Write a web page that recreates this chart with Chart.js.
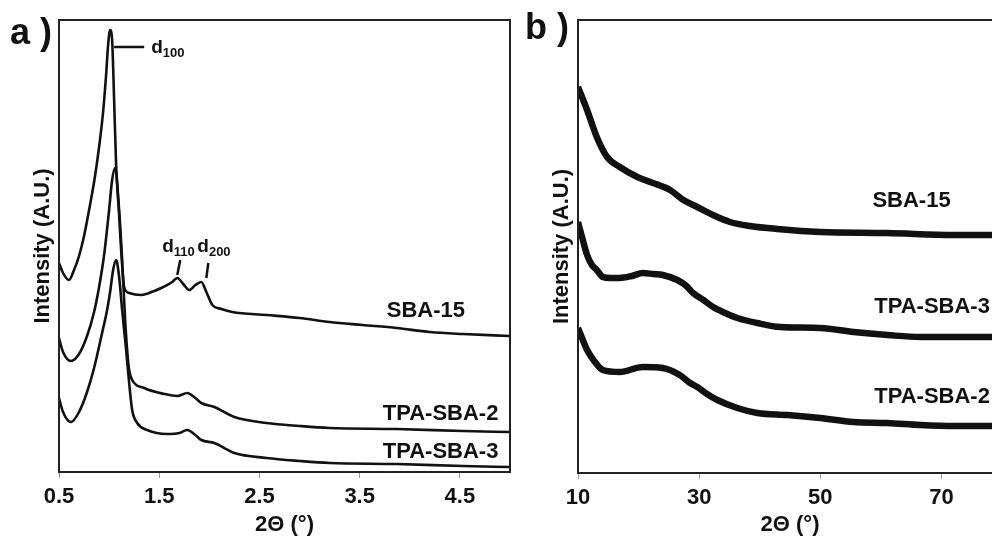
<!DOCTYPE html>
<html>
<head>
<meta charset="utf-8">
<script src="https://cdn.jsdelivr.net/npm/chart.js@4.4.0/dist/chart.umd.min.js"></script>
<style>
  html, body { margin: 0; padding: 0; background: #fff; overflow: hidden; }
  #wrap { position: relative; width: 992px; height: 538px; overflow: hidden; }
  #chartA { position: absolute; left: 0; top: 0; }
  #chartB { position: absolute; left: 520px; top: 0; }
</style>
</head>
<body>
<div id="wrap">
  <canvas id="chartA" width="530" height="538"></canvas>
  <canvas id="chartB" width="500" height="538"></canvas>
</div>
<script>
// ---- panel a: low-angle XRD ----
const seriesA = ["SBA-15", "TPA-SBA-2", "TPA-SBA-3"];
const ticksA = [0.5, 1.5, 2.5, 3.5, 4.5];

const thetaA_sba15 = [0.50, 0.54, 0.60, 0.65, 0.70, 0.75, 0.80, 0.85, 0.88, 0.91, 0.94, 0.97, 0.99, 1.01, 1.03, 1.05, 1.07, 1.10, 1.12, 1.15, 1.20, 1.32, 1.45, 1.52, 1.63, 1.68, 1.74, 1.80, 1.86, 1.92, 1.97, 2.03, 2.12, 2.23, 2.57, 2.90, 3.20, 3.53, 3.87, 4.20, 4.53, 5.00];
const intA_sba15   = [209, 199, 192, 202, 216, 236, 262, 290, 310, 333, 360, 397, 427, 442, 432, 372, 307, 257, 222, 185, 179, 177, 181, 184, 190, 194, 188, 182, 187, 190, 180, 167, 163, 160, 157, 154, 150, 147, 144, 140, 138, 136];

const thetaA_tpa2 = [0.50, 0.54, 0.62, 0.70, 0.78, 0.85, 0.90, 0.95, 1.00, 1.03, 1.06, 1.10, 1.13, 1.16, 1.18, 1.20, 1.23, 1.35, 1.55, 1.68, 1.78, 1.86, 1.92, 2.05, 2.25, 2.57, 2.90, 3.20, 3.87, 4.53, 5.00];
const intA_tpa2   = [134, 120, 111, 118, 136, 160, 185, 217, 262, 292, 304, 262, 212, 152, 122, 102, 92, 84, 78, 76, 79, 74, 69, 65, 55, 49, 46, 44, 43, 41, 40];

const thetaA_tpa3 = [0.50, 0.54, 0.62, 0.70, 0.78, 0.85, 0.93, 0.98, 1.01, 1.04, 1.07, 1.10, 1.13, 1.17, 1.20, 1.23, 1.28, 1.38, 1.58, 1.70, 1.78, 1.86, 1.92, 2.05, 2.25, 2.57, 2.90, 3.20, 3.87, 4.53, 5.00];
const intA_tpa3   = [74, 60, 50, 60, 80, 104, 139, 162, 180, 202, 212, 195, 162, 122, 89, 62, 49, 42, 38, 39, 42, 37, 32, 29, 19, 14, 11, 9, 8, 6, 5];

// ---- panel b: wide-angle XRD ----
const seriesB = ["SBA-15", "TPA-SBA-3", "TPA-SBA-2"];
const ticksB = [10, 30, 50, 70];

const thetaB_sba15 = [10.0, 11.5, 13.1, 14.8, 16.9, 19.8, 22.4, 25.2, 27.4, 29.7, 32.3, 35.1, 38.4, 42.9, 50.0, 61.0, 72.0, 80.0];
const intB_sba15   = [386, 363, 336, 316, 306, 296, 290, 283, 273, 266, 258, 251, 247, 244, 241, 240, 238, 238];

const thetaB_tpa3 = [10.0, 10.8, 11.5, 12.3, 13.1, 14.1, 15.3, 16.9, 18.9, 20.7, 22.4, 24.0, 26.4, 27.9, 29.0, 30.7, 32.3, 34.3, 36.3, 39.6, 43.4, 50.0, 55.5, 61.1, 66.5, 72.0, 80.0];
const intB_tpa3   = [251, 233, 218, 208, 203, 196, 195, 195, 197, 200, 199, 198, 193, 187, 180, 173, 166, 160, 155, 150, 146, 145, 141, 138, 136, 136, 136];

const thetaB_tpa2 = [10.0, 10.8, 11.5, 12.8, 14.1, 16.9, 20.7, 24.0, 26.8, 28.5, 29.7, 31.3, 33.0, 36.3, 39.6, 44.6, 50.0, 55.5, 61.1, 66.5, 72.0, 80.0];
const intB_tpa2   = [145, 133, 123, 111, 103, 101, 106, 105, 98, 90, 86, 79, 73, 65, 60, 58, 55, 51, 50, 48, 47, 47];

const FONT = '"Liberation Sans", Arial, sans-serif';
Chart.defaults.font.family = FONT;
Chart.defaults.color = '#111';

function pts(xs, ys) { return xs.map((x, i) => ({ x: x, y: ys[i] })); }

function sub(ctx, x, y, main, low) {
  ctx.font = 'bold 19px ' + FONT;
  ctx.fillText(main, x, y);
  const w = ctx.measureText(main).width;
  ctx.font = 'bold 13px ' + FONT;
  ctx.fillText(low, x + w, y + 4);
}

const framePlugin = {
  id: 'frame',
  afterDatasetsDraw(chart) {
    const { ctx, chartArea: a } = chart;
    ctx.save();
    ctx.strokeStyle = '#222';
    ctx.lineWidth = 2;
    ctx.strokeRect(a.left, a.top, a.right - a.left, a.bottom - a.top);
    ctx.restore();
  }
};

const notesA = {
  id: 'notesA',
  afterDraw(chart) {
    const { ctx, scales: { x, y } } = chart;
    const px = v => x.getPixelForValue(v), py = v => y.getPixelForValue(v);
    ctx.save();
    ctx.fillStyle = '#111';
    ctx.strokeStyle = '#111';
    ctx.font = 'bold 36px ' + FONT;
    ctx.fillText('a )', 10, 44);

    // peak markers
    ctx.lineWidth = 2.5;
    ctx.beginPath();
    ctx.moveTo(px(1.05), py(425)); ctx.lineTo(px(1.35), py(425));
    ctx.moveTo(px(1.71), py(212)); ctx.lineTo(px(1.68), py(197));
    ctx.moveTo(px(1.99), py(209)); ctx.lineTo(px(1.97), py(194));
    ctx.stroke();
    sub(ctx, px(1.42), py(419), 'd', '100');
    sub(ctx, px(1.53), py(220), 'd', '110');
    sub(ctx, px(1.88), py(220), 'd', '200');

    ctx.font = 'bold 22px ' + FONT;
    ctx.fillText(seriesA[0], px(3.77), py(155));
    ctx.fillText(seriesA[1], px(3.73), py(52));
    ctx.fillText(seriesA[2], px(3.73), py(14));
    ctx.restore();
  }
};

const notesB = {
  id: 'notesB',
  afterDraw(chart) {
    const { ctx, scales: { x, y } } = chart;
    const px = v => x.getPixelForValue(v), py = v => y.getPixelForValue(v);
    ctx.save();
    ctx.fillStyle = '#111';
    ctx.font = 'bold 36px ' + FONT;
    ctx.fillText('b )', 5, 39);
    ctx.font = 'bold 22px ' + FONT;
    ctx.fillText(seriesB[0], px(58.6), py(266));
    ctx.fillText(seriesB[1], px(58.9), py(160));
    ctx.fillText(seriesB[2], px(58.9), py(70));
    ctx.restore();
  }
};

function axisOptions(min, max, ticks, xHeight, yWidth, yMax, yPad) {
  const tickFont = { size: 22, weight: 'bold' };
  return {
    x: {
      type: 'linear', min: min, max: max,
      afterBuildTicks: s => { s.ticks = ticks.map(v => ({ value: v })); },
      afterFit: s => { s.height = xHeight; },
      ticks: { autoSkip: false, maxRotation: 0, padding: 6, font: tickFont, color: '#111',
               callback: v => (min < 1 ? v.toFixed(1) : String(v)) },
      grid: { drawOnChartArea: false, tickLength: 6, color: '#999' },
      border: { display: false },
      title: { display: true, text: '2Θ (°)', font: tickFont, color: '#111', padding: { top: 0, bottom: 0 } }
    },
    y: {
      min: 0, max: yMax,
      ticks: { display: false },
      grid: { display: false },
      border: { display: false },
      afterFit: s => { s.width = yWidth; },
      title: { display: true, text: 'Intensity (A.U.)', font: tickFont, color: '#111', padding: { top: yPad, bottom: 0 } }
    }
  };
}

function lineSet(label, xs, ys, width) {
  return { label: label, data: pts(xs, ys), borderColor: '#111', borderWidth: width,
           pointRadius: 0, fill: false, cubicInterpolationMode: 'monotone' };
}

new Chart(document.getElementById('chartA'), {
  type: 'line',
  data: {
    datasets: [
      lineSet(seriesA[0], thetaA_sba15, intA_sba15, 2.6),
      lineSet(seriesA[1], thetaA_tpa2, intA_tpa2, 2.6),
      lineSet(seriesA[2], thetaA_tpa3, intA_tpa3, 2.6)
    ]
  },
  options: {
    responsive: false, animation: false,
    layout: { padding: { top: 20, right: 20, left: 0, bottom: 0 } },
    plugins: { legend: { display: false }, tooltip: { enabled: false } },
    scales: axisOptions(0.5, 5.0, ticksA, 66, 59, 452, 30)
  },
  plugins: [framePlugin, notesA]
});

new Chart(document.getElementById('chartB'), {
  type: 'line',
  data: {
    datasets: [
      lineSet(seriesB[0], thetaB_sba15, intB_sba15, 6.5),
      lineSet(seriesB[1], thetaB_tpa3, intB_tpa3, 6.5),
      lineSet(seriesB[2], thetaB_tpa2, intB_tpa2, 6.5)
    ]
  },
  options: {
    responsive: false, animation: false,
    layout: { padding: { top: 20, right: 18, left: 0, bottom: 0 } },
    plugins: { legend: { display: false }, tooltip: { enabled: false } },
    scales: axisOptions(10, 80, ticksB, 65, 58, 453, 29)
  },
  plugins: [framePlugin, notesB]
});
</script>
</body>
</html>
